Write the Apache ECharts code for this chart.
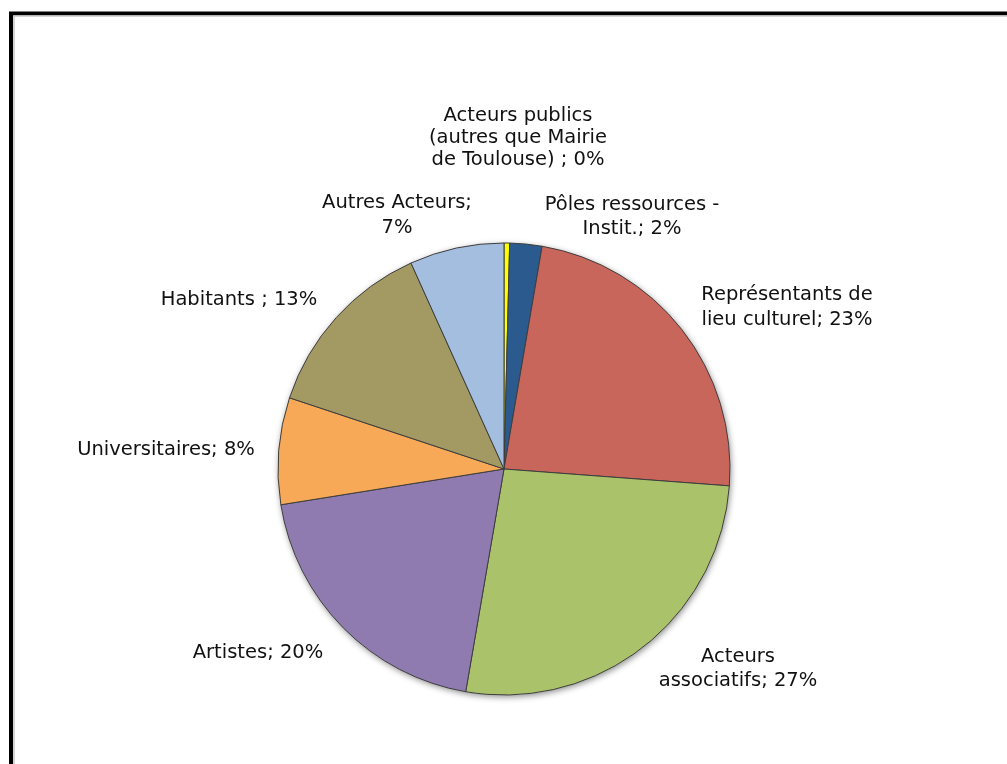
<!DOCTYPE html>
<html>
<head>
<meta charset="utf-8">
<script src="https://cdn.jsdelivr.net/npm/echarts@6/dist/echarts.min.js"></script>
<style>
html,body{margin:0;padding:0;background:#fff;}
#chart{width:1007px;height:764px;}
</style>
</head>
<body>
<div id="chart"></div>
<script>
// Data
const categories = [
  "Acteurs publics (autres que Mairie de Toulouse)",
  "Pôles ressources - Instit.",
  "Représentants de lieu culturel",
  "Acteurs associatifs",
  "Artistes",
  "Universitaires",
  "Habitants",
  "Autres Acteurs"
];
const values = [0.4, 2.3, 23.49, 26.52, 19.76, 7.63, 13.15, 6.75];
const labelPrefixes = [
  "Acteurs publics\n(autres que Mairie\nde Toulouse) ; ",
  "Pôles ressources -\nInstit.; ",
  "Représentants de\nlieu culturel; ",
  "Acteurs\nassociatifs; ",
  "Artistes; ",
  "Universitaires; ",
  "Habitants ; ",
  "Autres Acteurs;\n"
];

// Styles / layout
const colors = ["#FFFF00", "#2B5A8E", "#C9665C", "#AAC36A", "#907BB0", "#F7A957", "#A39A63", "#A4BEE0"];
const labelLineHeights = [22, 24, 25, 24, 24, 24, 24, 25];
const labelCenters = [
  [518, 138], [632, 217], [787, 307], [738, 669],
  [258, 653], [166, 450], [239, 300], [397, 215]
];

const chart = echarts.init(document.getElementById('chart'), null, {renderer: 'canvas'});
const pieCenter = [504, 469];
const pieRadius = 226;

const option = {
  animation: false,
  backgroundColor: '#ffffff',
  graphic: [
    {type: 'rect', silent: true, shape: {x: 11, y: 13.5, width: 1200, height: 1000},
     style: {fill: 'none', stroke: '#000000', lineWidth: 4}},
    {type: 'rect', silent: true, shape: {x: 14, y: 16, width: 1200, height: 1000},
     style: {fill: 'none', stroke: '#c8c8c8', lineWidth: 1.5}}
  ],
  series: [
    {
      type: 'pie',
      silent: true,
      center: pieCenter,
      radius: pieRadius,
      label: {show: false},
      labelLine: {show: false},
      itemStyle: {color: '#ffffff', borderWidth: 0,
        shadowBlur: 6, shadowColor: 'rgba(0,0,0,0.45)', shadowOffsetX: 1, shadowOffsetY: 2},
      data: [{value: 1, name: ''}],
      z: 1
    },
    {
      type: 'pie',
      center: pieCenter,
      radius: pieRadius,
      startAngle: 90,
      clockwise: true,
      avoidLabelOverlap: false,
      minAngle: 0,
      z: 2,
      itemStyle: {borderColor: '#3d3d3d', borderWidth: 1},
      label: {
        show: true,
        position: 'outside',
        fontFamily: 'DejaVu Sans',
        fontSize: 19.5,
        color: '#111111',
        lineHeight: 24,
        align: 'center',
        formatter: function (p) {
          return labelPrefixes[p.dataIndex] + Math.round(p.percent) + '%';
        }
      },
      labelLine: {show: false},
      labelLayout: function (params) {
        const c = labelCenters[params.dataIndex];
        return {x: c[0], y: c[1], align: 'center', verticalAlign: 'middle'};
      },
      emphasis: {disabled: true},
      data: categories.map(function (name, i) {
        return {
          name: name,
          value: values[i],
          itemStyle: {color: colors[i]},
          label: {lineHeight: labelLineHeights[i]}
        };
      })
    }
  ]
};
chart.setOption(option);
</script>
</body>
</html>
